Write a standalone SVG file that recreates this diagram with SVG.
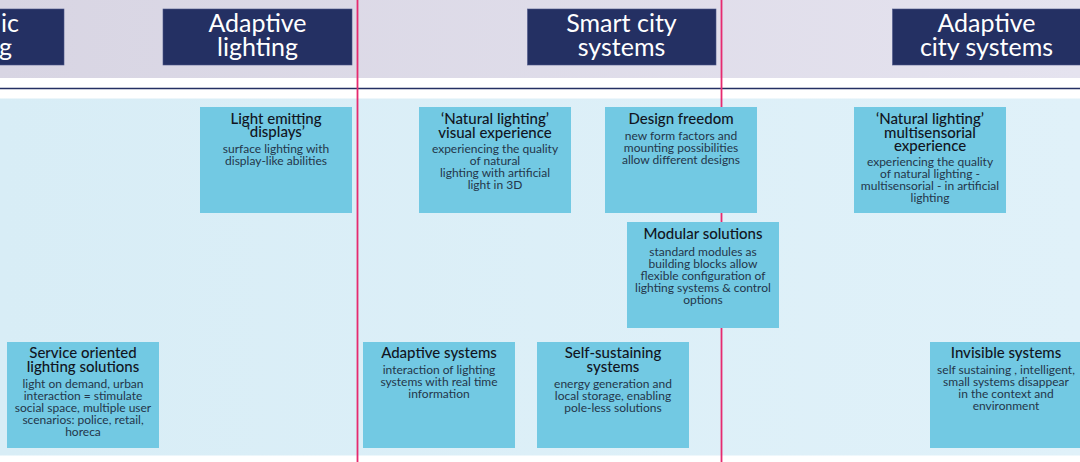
<svg xmlns="http://www.w3.org/2000/svg" width="1080" height="462" viewBox="0 0 1080 462">
<defs>
<linearGradient id="lav" x1="0" y1="0" x2="1" y2="0">
<stop offset="0" stop-color="#d8d5e3"/>
<stop offset="1" stop-color="#e5e3ef"/>
</linearGradient>
<linearGradient id="sky" x1="0" y1="0" x2="1" y2="0">
<stop offset="0" stop-color="#d8edf6"/>
<stop offset="1" stop-color="#e0f1f9"/>
</linearGradient>
</defs>
<style>
.hdr{fill:#243063;stroke:#4b5688;stroke-width:0.6}
.ht{font-family:Lato,"Open Sans",sans-serif;font-size:25px;fill:#ffffff;text-anchor:middle}
.box{fill:#72c9e3}
.t{font-family:Lato,"Open Sans",sans-serif;font-size:15px;font-weight:500;fill:#111522;text-anchor:middle}
.b{font-family:Lato,"Open Sans",sans-serif;font-size:12px;fill:#24364a;text-anchor:middle}
.div{stroke:#e62a6f;stroke-width:1.8}
</style>
<rect x="0" y="0" width="1080" height="462" fill="#ffffff"/>
<rect x="0" y="0" width="1080" height="78" fill="url(#lav)"/>
<rect x="0" y="98.5" width="1080" height="357" fill="url(#sky)"/>
<line x1="0" y1="88.5" x2="1080" y2="88.5" stroke="#243063" stroke-width="1.5"/>
<g id="connectors">
<line class="div" x1="357.5" y1="0" x2="357.5" y2="462"/>
<line class="div" x1="721.5" y1="0" x2="721.5" y2="462"/>
</g>
<g id="hdr-static">
<rect class="hdr" x="-2" y="9" width="66" height="56"/>
<text class="ht" x="1" y="32" style="text-anchor:start">ic</text>
<text class="ht" x="-1" y="56" style="text-anchor:start">g</text>
</g>
<g id="hdr-adaptive-lighting">
<rect class="hdr" x="163" y="9" width="189" height="56"/>
<text class="ht" x="257.5" y="32">Adaptive</text>
<text class="ht" x="257.5" y="56">lighting</text>
</g>
<g id="hdr-smart-city">
<rect class="hdr" x="527.5" y="9" width="188.5" height="56"/>
<text class="ht" x="621.5" y="32">Smart city</text>
<text class="ht" x="621.5" y="56">systems</text>
</g>
<g id="hdr-adaptive-city">
<rect class="hdr" x="892.5" y="9" width="190" height="56"/>
<text class="ht" x="986.5" y="32">Adaptive</text>
<text class="ht" x="986.5" y="56">city systems</text>
</g>
<g id="light-emitting">
<rect class="box" x="200" y="107" width="152" height="106"/>
<text class="t" x="276" y="124">Light emitting</text>
<text class="t" x="276" y="137">‘displays’</text>
<text class="b" x="276" y="153">surface lighting with</text>
<text class="b" x="276" y="165">display-like abilities</text>
</g>
<g id="natural-visual">
<rect class="box" x="419" y="107" width="152" height="106"/>
<text class="t" x="495" y="124">‘Natural lighting’</text>
<text class="t" x="495" y="137.5">visual experience</text>
<text class="b" x="495" y="153">experiencing the quality</text>
<text class="b" x="495" y="165">of natural</text>
<text class="b" x="495" y="177">lighting with artificial</text>
<text class="b" x="495" y="189">light in 3D</text>
</g>
<g id="design-freedom">
<rect class="box" x="605" y="107" width="152" height="106"/>
<text class="t" x="681" y="124">Design freedom</text>
<text class="b" x="681" y="140">new form factors and</text>
<text class="b" x="681" y="152">mounting possibilities</text>
<text class="b" x="681" y="164">allow different designs</text>
</g>
<g id="natural-multisensorial">
<rect class="box" x="854" y="107" width="152" height="106"/>
<text class="t" x="930" y="124">‘Natural lighting’</text>
<text class="t" x="930" y="137.5">multisensorial</text>
<text class="t" x="930" y="151">experience</text>
<text class="b" x="930" y="166">experiencing the quality</text>
<text class="b" x="930" y="178">of natural lighting -</text>
<text class="b" x="930" y="190">multisensorial - in artificial</text>
<text class="b" x="930" y="202">lighting</text>
</g>
<g id="modular-solutions">
<rect class="box" x="627" y="222" width="152" height="106"/>
<text class="t" x="703" y="239">Modular solutions</text>
<text class="b" x="703" y="256">standard modules as</text>
<text class="b" x="703" y="268">building blocks allow</text>
<text class="b" x="703" y="280">flexible configuration of</text>
<text class="b" x="703" y="292">lighting systems &amp; control</text>
<text class="b" x="703" y="304">options</text>
</g>
<g id="service-oriented">
<rect class="box" x="7" y="342" width="152" height="106"/>
<text class="t" x="83" y="358">Service oriented</text>
<text class="t" x="83" y="371.5">lighting solutions</text>
<text class="b" x="83" y="388">light on demand, urban</text>
<text class="b" x="83" y="400">interaction = stimulate</text>
<text class="b" x="83" y="412">social space, multiple user</text>
<text class="b" x="83" y="424">scenarios: police, retail,</text>
<text class="b" x="83" y="436">horeca</text>
</g>
<g id="adaptive-systems">
<rect class="box" x="363" y="342" width="152" height="106"/>
<text class="t" x="439" y="358">Adaptive systems</text>
<text class="b" x="439" y="374">interaction of lighting</text>
<text class="b" x="439" y="386">systems with real time</text>
<text class="b" x="439" y="398">information</text>
</g>
<g id="self-sustaining">
<rect class="box" x="537" y="342" width="152" height="106"/>
<text class="t" x="613" y="358">Self-sustaining</text>
<text class="t" x="613" y="371.5">systems</text>
<text class="b" x="613" y="388">energy generation and</text>
<text class="b" x="613" y="400">local storage, enabling</text>
<text class="b" x="613" y="412">pole-less solutions</text>
</g>
<g id="invisible-systems">
<rect class="box" x="930" y="342" width="152" height="106"/>
<text class="t" x="1006" y="358">Invisible systems</text>
<text class="b" x="1006" y="374">self sustaining , intelligent,</text>
<text class="b" x="1006" y="386">small systems disappear</text>
<text class="b" x="1006" y="398">in the context and</text>
<text class="b" x="1006" y="410">environment</text>
</g>
</svg>
